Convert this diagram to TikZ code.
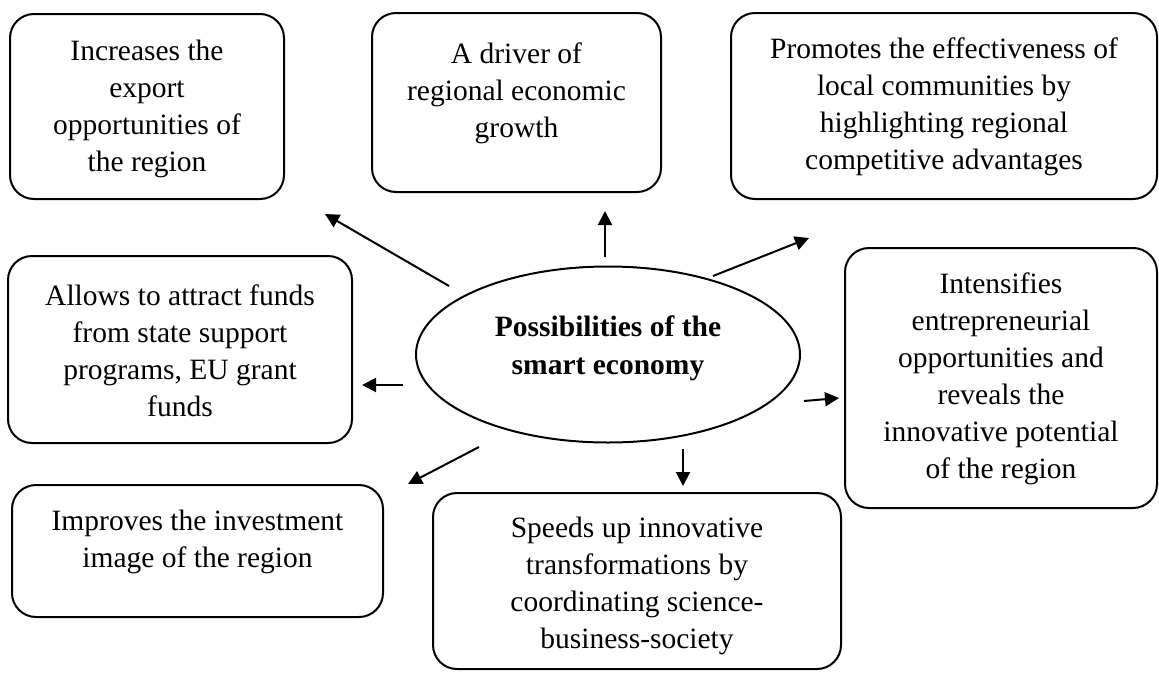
\documentclass[tikz,border=0pt]{standalone}
\usepackage{fontspec}
\setmainfont{Liberation Serif}
\usetikzlibrary{shapes.geometric,arrows.meta}

\tikzset{
  box/.style={draw,line width=2pt,rounded corners=24pt,align=center,inner sep=0pt},
  arr/.style={line width=2pt,-{Triangle[length=14pt,width=14pt]}}
}

\begin{document}
\begin{tikzpicture}[x=1pt,y=-1pt,font=\fontsize{29.5pt}{37pt}\selectfont]
\useasboundingbox (0,0) rectangle (1159,672);

\node[draw,ellipse,line width=2pt,minimum width=384pt,minimum height=176pt,align=center,text depth=19pt,font=\fontsize{29.5pt}{38pt}\selectfont\bfseries] (smart) at (608,354.5) {Possibilities of the\\smart economy};

\node[box,minimum width=274pt,minimum height=185pt,text height=136pt] (export) at (147,106.5) {Increases the\\export\\opportunities of\\the region};
\node[box,minimum width=289pt,minimum height=179pt,text depth=24pt] (driver) at (516.5,102.5) {A driver of\\regional economic\\growth};
\node[box,minimum width=426pt,minimum height=186pt,text height=134pt] (promotes) at (944,106) {Promotes the effectiveness of\\local communities by\\highlighting regional\\competitive advantages};
\node[box,minimum width=344pt,minimum height=187pt,text height=134pt] (funds) at (180,349.5) {Allows to attract funds\\from state support\\programs, EU grant\\funds};
\node[box,minimum width=312pt,minimum height=260pt,text height=208pt] (intensify) at (1001,378) {Intensifies\\entrepreneurial\\opportunities and\\reveals the\\innovative potential\\of the region};
\node[box,minimum width=371pt,minimum height=132pt,text depth=24pt] (image) at (197.5,551) {Improves the investment\\image of the region};
\node[box,minimum width=408pt,minimum height=176pt,text height=141pt] (speeds) at (637,581) {Speeds up innovative\\transformations by\\coordinating science-\\business-society};

% arrow ends
\coordinate (s1) at (449,286); \coordinate (t1) at (325,214);
\coordinate (s2) at (605,257); \coordinate (t2) at (605,211);
\coordinate (s3) at (713,276); \coordinate (t3) at (809,238);
\coordinate (s4) at (403,385); \coordinate (t4) at (362,385);
\coordinate (s5) at (804,401); \coordinate (t5) at (839,398);
\coordinate (s6) at (479,447); \coordinate (t6) at (408,484);
\coordinate (s7) at (683,449); \coordinate (t7) at (683,486);

\draw[arr] (s1) -- (t1);
\draw[arr] (s2) -- (t2);
\draw[arr] (s3) -- (t3);
\draw[arr] (s4) -- (t4);
\draw[arr] (s5) -- (t5);
\draw[arr] (s6) -- (t6);
\draw[arr] (s7) -- (t7);
\end{tikzpicture}
\end{document}
